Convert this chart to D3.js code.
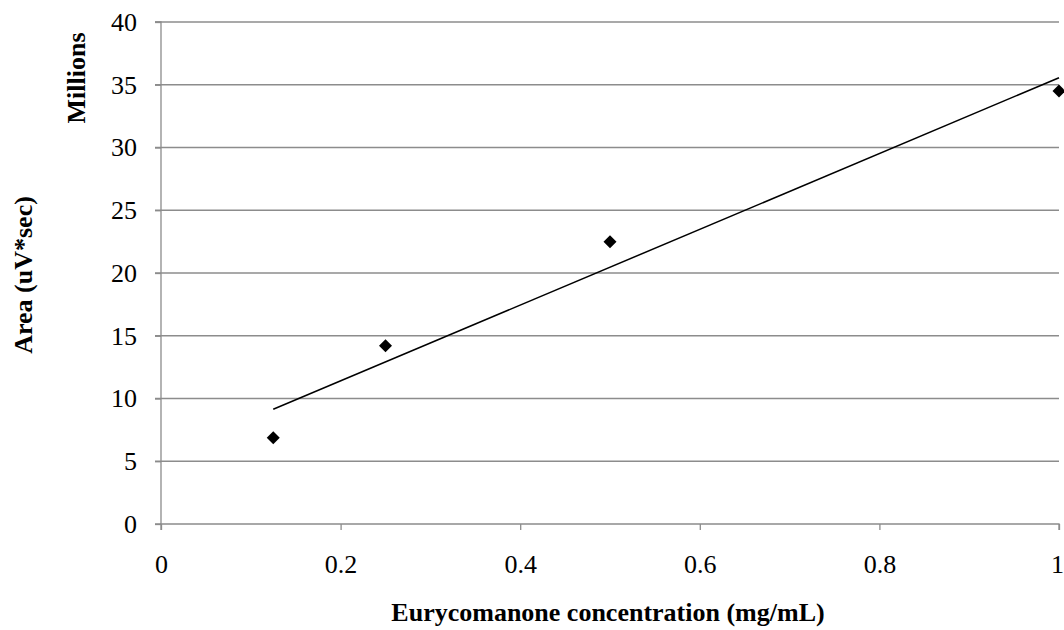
<!DOCTYPE html>
<html>
<head>
<meta charset="utf-8">
<script src="https://cdn.jsdelivr.net/npm/d3@7"></script>
<style>
  body { margin: 0; background: #fff; }
  svg { display: block; }
</style>
</head>
<body>
<div class="chart"></div>
<script>
const concentration = [0.125, 0.25, 0.5, 1];
const areaMillions = [6.87, 14.2, 22.5, 34.5];
const xTicks = [0, 0.2, 0.4, 0.6, 0.8, 1];
const yTicks = [0, 5, 10, 15, 20, 25, 30, 35, 40];

const margin = { top: 22, right: 5, bottom: 106, left: 161 },
	width = 1064 - margin.left - margin.right,
	height = 630 - margin.top - margin.bottom;

const svg = d3
	.select(".chart")
	.append("svg")
	.attr("width", 1064)
	.attr("height", 630)
	.style("font-family", "'Liberation Serif', 'Times New Roman', serif");

const g = svg.append("g").attr("transform", `translate(${margin.left},${margin.top})`);

const x = d3.scaleLinear().domain([0, 1]).range([0, 898]);
const y = d3.scaleLinear().domain([0, 40]).range([height, 0]);

// gridlines
g.append("g")
	.selectAll("line")
	.data(yTicks.filter((d) => d > 0))
	.enter()
	.append("line")
	.attr("x1", -6)
	.attr("x2", x(1))
	.attr("y1", (d) => y(d))
	.attr("y2", (d) => y(d))
	.attr("stroke", "#8c8c8c")
	.attr("stroke-width", 1.3);

const yAxis = g.append("g").call(d3.axisLeft(y).tickValues(yTicks).tickSize(6).tickPadding(18).tickFormat(d3.format("d")));
const xAxis = g
	.append("g")
	.attr("transform", `translate(0,${height})`)
	.call(d3.axisBottom(x).tickValues(xTicks).tickSize(6).tickPadding(25).tickFormat((d) => (d === 0 || d === 1 ? d : d3.format(".1f")(d))));

[yAxis, xAxis].forEach((a) => {
	a.select(".domain").attr("stroke", "#8c8c8c").attr("stroke-width", 1.3);
	a.selectAll(".tick line").attr("stroke", "#8c8c8c").attr("stroke-width", 1.3);
	a.selectAll("text").attr("fill", "#000").style("font-size", "26px").style("font-family", "'Liberation Serif', serif");
});
xAxis.select(".domain").attr("d", `M0,6V0H${x(1)}V6`);
yAxis.select(".domain").attr("d", `M-6,${y(40)}H0V${height}H-6`);
// keep the last label inside the page edge
xAxis.selectAll(".tick text").filter((d) => d === 1).attr("dx", -2);

// linear trendline (least squares through the points)
const mx = d3.mean(concentration), my = d3.mean(areaMillions);
const slope =
	d3.sum(concentration, (c, i) => (c - mx) * (areaMillions[i] - my)) /
	d3.sum(concentration, (c) => (c - mx) * (c - mx));
const intercept = my - slope * mx;
const xr = d3.extent(concentration);

g.append("line")
	.attr("x1", x(xr[0]))
	.attr("y1", y(intercept + slope * xr[0]))
	.attr("x2", x(xr[1]))
	.attr("y2", y(intercept + slope * xr[1]))
	.attr("stroke", "#000")
	.attr("stroke-width", 1.5);

g.selectAll("path.pt")
	.data(concentration)
	.enter()
	.append("path")
	.attr("class", "pt")
	.attr("d", "M0,-6.5L6.5,0L0,6.5L-6.5,0Z")
	.attr("transform", (d, i) => `translate(${x(d)},${y(areaMillions[i])})`)
	.attr("fill", "#000");

svg.append("text")
	.attr("x", 608)
	.attr("y", 621)
	.attr("text-anchor", "middle")
	.style("font-size", "26px")
	.style("font-weight", "bold")
	.text("Eurycomanone concentration (mg/mL)");

svg.append("text")
	.attr("transform", "translate(32,275) rotate(-90)")
	.attr("text-anchor", "middle")
	.style("font-size", "26px")
	.style("font-weight", "bold")
	.text("Area (uV*sec)");

svg.append("text")
	.attr("transform", "translate(85,78) rotate(-90)")
	.attr("text-anchor", "middle")
	.style("font-size", "26px")
	.style("font-weight", "bold")
	.text("Millions");
</script>
</body>
</html>
